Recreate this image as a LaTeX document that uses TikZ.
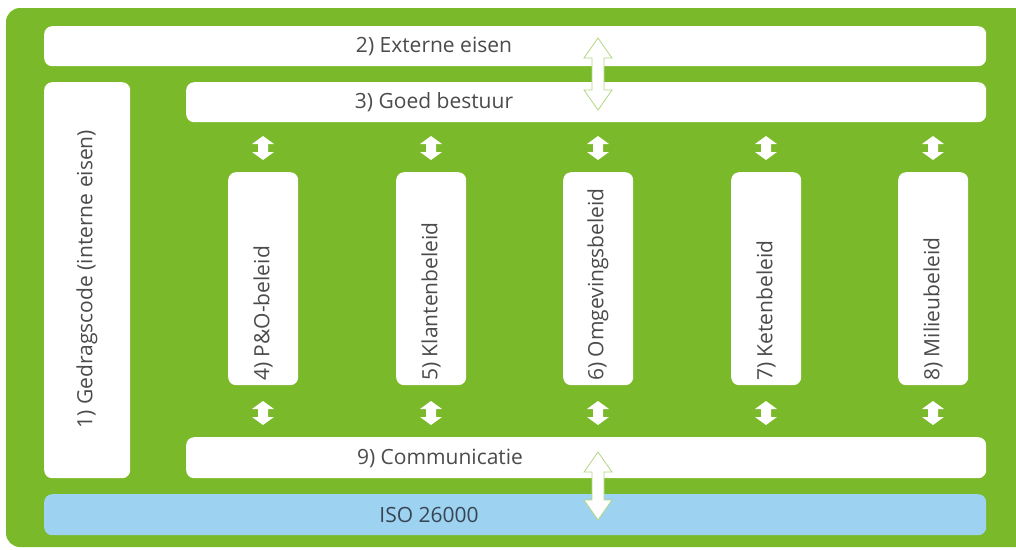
\documentclass[tikz,border=0pt]{standalone}
\usepackage{fontspec}
\setmainfont{Open Sans}
\usetikzlibrary{positioning}

\definecolor{groen}{RGB}{122,185,41}
\definecolor{lichtgroen}{RGB}{178,214,130}
\definecolor{lichtblauw}{RGB}{157,211,240}
\definecolor{tekstgrijs}{RGB}{75,75,75}
\definecolor{isogrijs}{RGB}{55,70,85}

\tikzset{
	vak/.style = {fill = white, rounded corners = 8pt, inner sep = 0pt, anchor = north west},
	label/.style = {text = tekstgrijs, font = \fontsize{21}{24}\selectfont, inner sep = 0pt},
	grotepijl/.style = {fill = white, draw = lichtgroen, line width = 0.8pt},
	pics/pijl/.style args = {#1/#2/#3/#4}{code = {
		\path [pic actions] (0, -#1) -- (#2, -#1 + #4) -- (#3, -#1 + #4) -- (#3, #1 - #4) -- (#2, #1 - #4)
			-- (0, #1) -- (-#2, #1 - #4) -- (-#3, #1 - #4) -- (-#3, -#1 + #4) -- (-#2, -#1 + #4) -- cycle;
	}}
}

\begin{document}
\begin{tikzpicture}[x = 1pt, y = -1pt]

	\useasboundingbox (0, 0) rectangle (1016, 549);
	\clip (0, 0) rectangle (1016, 549);

	% Green background

	\fill [groen, rounded corners = 14pt] (6, 8) rectangle (1040, 547);

	% Horizontal layers

	\node [vak, minimum width = 942pt, minimum height = 40pt] (extern) at (44, 26) {};
	\node [vak, minimum width = 800pt, minimum height = 40pt] (bestuur) at (186, 82) {};
	\node [vak, minimum width = 800pt, minimum height = 41pt] (communicatie) at (186, 437) {};
	\node [vak, fill = lichtblauw, minimum width = 942pt, minimum height = 41pt] (iso) at (44, 494) {};
	\node [vak, minimum width = 86pt, minimum height = 396pt] (gedrag) at (44, 82) {};

	\node [label] (externtekst) at (434, 46) {2) Externe eisen};
	\node [label] (bestuurtekst) at (434, 102) {3) Goed bestuur};
	\node [label] (communicatietekst) at (440, 458) {9) Communicatie};
	\node [label, text = isogrijs] (isotekst) at (429, 515) {ISO 26000};
	\node [label, rotate = 90] (gedragtekst) at (87, 279) {1) Gedragscode (interne eisen)};

	% Policy columns with small arrows

	\foreach \x / \naam / \tekst in {263/po/{4) P\&O-beleid}, 431/klanten/{5) Klantenbeleid},
		598/omgeving/{6) Omgevingsbeleid}, 766/keten/{7) Ketenbeleid}, 933/milieu/{8) Milieubeleid}} {

		\node [vak, minimum width = 70pt, minimum height = 213pt] (\naam) at (\x - 35, 172) {};
		\node [label, rotate = 90, anchor = west] (\naam tekst) at (\x, 381) {\tekst};

		\pic [fill = white] at (\x, 148) {pijl = 12/11/5/8};
		\pic [fill = white] at (\x, 413) {pijl = 12/11/5/8};
	}

	% Large arrows

	\pic [grotepijl] at (598, 74) {pijl = 36/14/6/20};
	\pic [grotepijl] at (598, 486) {pijl = 34/14/6/20};

\end{tikzpicture}
\end{document}
